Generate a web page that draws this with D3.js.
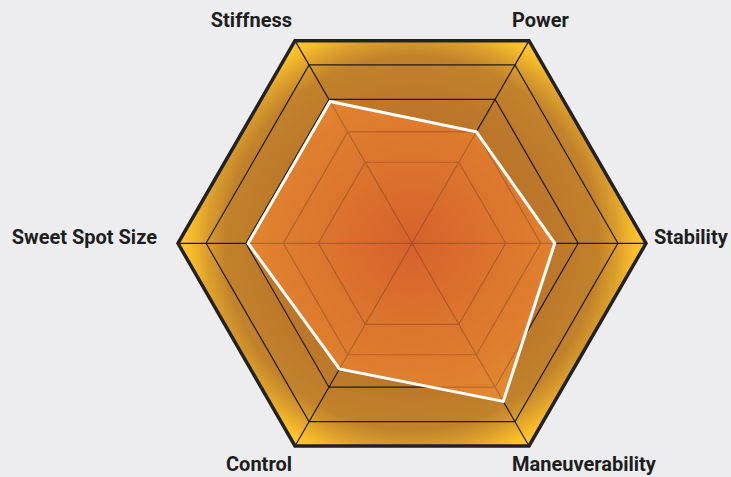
<!DOCTYPE html>
<html>
<head>
<meta charset="utf-8">
<script src="https://cdn.jsdelivr.net/npm/d3@7"></script>
<style>
  html, body { margin: 0; padding: 0; background: #ededf0; }
  #chart { width: 731px; height: 477px; }
  text { font-family: Roboto, "Noto Sans", sans-serif; }
</style>
</head>
<body>
<div id="chart"></div>
<script>
// ratings, 0-10 scale
const axes = ["Stiffness", "Power", "Stability", "Maneuverability", "Control", "Sweet Spot Size"];
const values = [7.0, 5.5, 6.1, 7.8, 6.2, 7.0];
const gridLevels = [4, 5.5, 7.1, 8.8];
const maxValue = 10;

const width = 731, height = 477;
const center = { x: 412, y: 243.3 };
const radius = 234;

const svg = d3.select("#chart").append("svg")
    .attr("width", width)
    .attr("height", height);

const rScale = d3.scaleLinear().domain([0, maxValue]).range([0, radius]);
// first axis points up-left, then clockwise every 60 degrees
const angle = i => (-120 + i * 360 / axes.length) * Math.PI / 180;
const point = (i, v) => [center.x + rScale(v) * Math.cos(angle(i)), center.y + rScale(v) * Math.sin(angle(i))];
const ring = v => axes.map((a, i) => point(i, v));
const line = d3.line().curve(d3.curveLinearClosed);

const defs = svg.append("defs");

const bgGrad = defs.append("radialGradient")
    .attr("id", "bgGrad")
    .attr("gradientUnits", "userSpaceOnUse")
    .attr("cx", center.x).attr("cy", center.y).attr("r", radius);
[[0, "#b66c2a"], [0.6, "#bc772a"], [0.8, "#c2822b"], [0.88, "#dc9f2c"], [0.96, "#ffc22b"], [1, "#ffc42b"]]
    .forEach(s => bgGrad.append("stop").attr("offset", s[0]).attr("stop-color", s[1]));

const polyGrad = defs.append("radialGradient")
    .attr("id", "polyGrad")
    .attr("gradientUnits", "userSpaceOnUse")
    .attr("cx", center.x).attr("cy", center.y).attr("r", radius);
[[0, "#e25e2d"], [0.75, "#f08c31"], [1, "#f29a32"]]
    .forEach(s => polyGrad.append("stop").attr("offset", s[0]).attr("stop-color", s[1]));

// background hexagon
svg.append("path")
    .attr("d", line(ring(maxValue)))
    .attr("fill", "url(#bgGrad)");

// grid rings
svg.append("g")
    .selectAll("path")
    .data(gridLevels)
    .enter().append("path")
    .attr("d", d => line(ring(d)))
    .attr("fill", "none")
    .attr("stroke", "#1c1c1c")
    .attr("stroke-width", 1.2);

// spokes
svg.append("g")
    .selectAll("line")
    .data(axes)
    .enter().append("line")
    .attr("x1", center.x)
    .attr("y1", center.y)
    .attr("x2", (d, i) => point(i, maxValue)[0])
    .attr("y2", (d, i) => point(i, maxValue)[1])
    .attr("stroke", "#1c1c1c")
    .attr("stroke-width", 1.2);

// data polygon
svg.append("path")
    .attr("d", line(values.map((v, i) => point(i, v))))
    .attr("fill", "url(#polyGrad)")
    .attr("fill-opacity", 0.72)
    .attr("stroke", "#ffffff")
    .attr("stroke-width", 3)
    .attr("stroke-linejoin", "miter");

// outer border
svg.append("path")
    .attr("d", line(ring(maxValue)))
    .attr("fill", "none")
    .attr("stroke", "#222222")
    .attr("stroke-width", 3.5)
    .attr("stroke-linejoin", "miter");

// axis labels
svg.append("g")
    .selectAll("text")
    .data(axes)
    .enter().append("text")
    .text(d => d)
    .attr("font-size", "20px")
    .attr("font-weight", 700)
    .attr("fill", "#1e1e1e")
    .each(function (d, i) {
        const [vx, vy] = point(i, maxValue);
        const c = Math.cos(angle(i)), s = Math.sin(angle(i));
        let x, y, anchor;
        if (Math.abs(s) < 0.1) {
            anchor = c > 0 ? "start" : "end";
            x = c > 0 ? vx + 8 : vx - 21;
            y = vy + 1;
        } else {
            anchor = c > 0 ? "start" : "end";
            x = c > 0 ? vx - 17 : vx - 3;
            y = s < 0 ? vy - 14 : vy + 25;
        }
        d3.select(this).attr("x", x).attr("y", y).attr("text-anchor", anchor);
    });
</script>
</body>
</html>
